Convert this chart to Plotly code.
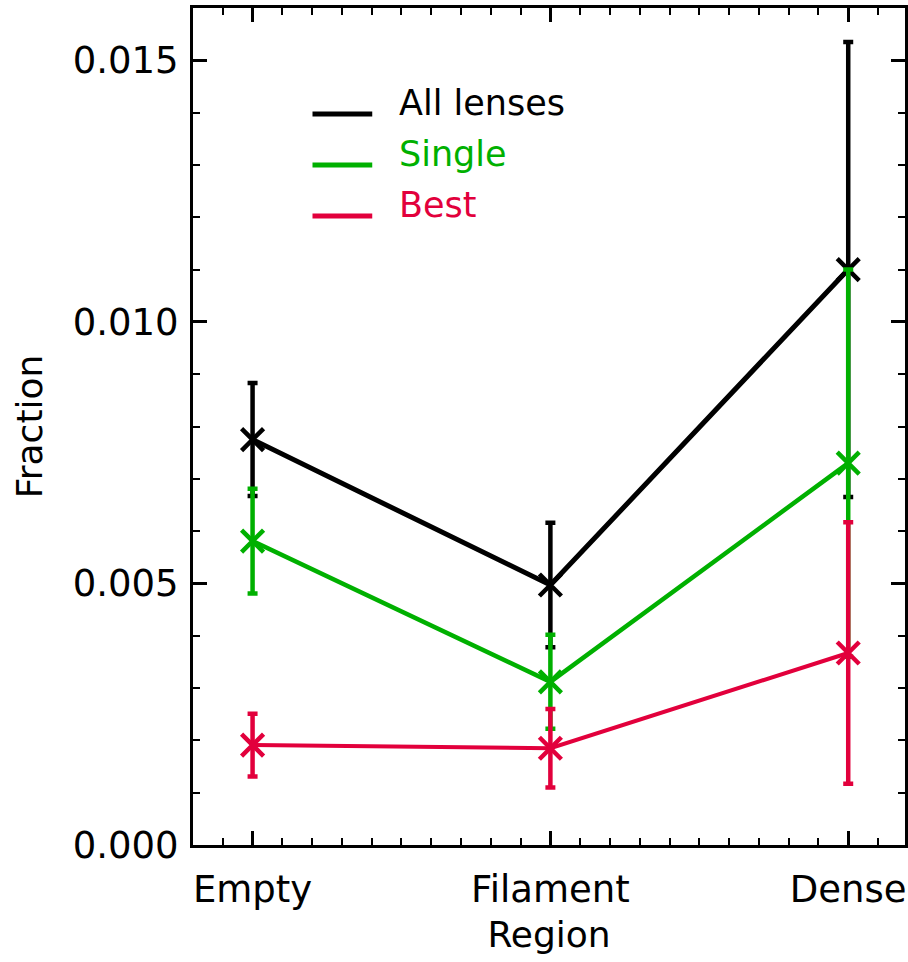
import plotly.graph_objects as go

regions = ["Empty", "Filament", "Dense"]
region_pos = [0, 1, 2]

all_vals = [0.00775, 0.00497, 0.0110]
all_err = [0.00108, 0.00119, 0.00435]

single_vals = [0.00581, 0.00312, 0.00730]
single_err = [0.00100, 0.00090, 0.00370]

best_vals = [0.00191, 0.00185, 0.00367]
best_err = [0.00060, 0.00075, 0.00250]

series = [
    ("All lenses", all_vals, all_err, "#000000", 5),
    ("Single", single_vals, single_err, "#00B000", 4.5),
    ("Best", best_vals, best_err, "#E2003C", 4),
]

y_ticks = [0.0, 0.005, 0.010, 0.015]

W, H = 908, 962
L, R, T, B = 193, 908, 8, 845
x_range = [-0.2, 2.0 + (R - 851) / 299.0]
y_range = [0.0, 0.016]

fig = go.Figure()
for name, vals, errs, color, lw in series:
    fig.add_trace(go.Scatter(
        x=region_pos, y=vals, name=name, mode="lines+markers",
        line=dict(color=color, width=lw),
        marker=dict(symbol="x-thin-open", size=22, color=color,
                    line=dict(color=color, width=4.5)),
        error_y=dict(type="data", array=errs, visible=True,
                     color=color, thickness=4.5, width=5),
        showlegend=False,
    ))

def px2paper(px, py):
    return (px - L) / (R - L), (B - py) / (B - T)

legend_rows = [(114, series[0]), (165, series[1]), (216, series[2])]
shapes = []
annotations = []
for py, (name, vals, errs, color, lw) in legend_rows:
    x0, y0 = px2paper(313, py)
    x1, _ = px2paper(373, py)
    shapes.append(dict(type="line", xref="paper", yref="paper",
                       x0=x0, x1=x1, y0=y0, y1=y0,
                       line=dict(color=color, width=5)))
    tx, ty = px2paper(398, py - 11)
    annotations.append(dict(xref="paper", yref="paper", x=tx, y=ty,
                            text=name, showarrow=False, xanchor="left",
                            yanchor="middle",
                            font=dict(family="DejaVu Sans", size=35, color=color)))

axis_common = dict(
    showline=True, linecolor="black", linewidth=3, mirror="ticks",
    ticks="inside", ticklen=14, tickwidth=2.5, tickcolor="black",
    showgrid=False, zeroline=False,
    tickfont=dict(family="DejaVu Sans", size=37, color="black"),
)

fig.update_layout(
    width=W, height=H,
    margin=dict(l=L, r=W - R, t=T, b=H - B),
    plot_bgcolor="white", paper_bgcolor="white",
    shapes=shapes, annotations=annotations,
    xaxis=dict(range=x_range, tickmode="array", tickvals=region_pos,
               ticktext=regions, ticklabelstandoff=10,
               minor=dict(tickmode="linear", tick0=0, dtick=0.1, ticks="inside",
                          ticklen=7, tickwidth=2, tickcolor="black"),
               title=dict(text="Region", standoff=12,
                          font=dict(family="DejaVu Sans", size=36, color="black")),
               **axis_common),
    yaxis=dict(range=y_range, tickmode="array", tickvals=y_ticks,
               tickformat=".3f", ticklabelstandoff=4,
               minor=dict(tickmode="linear", tick0=0, dtick=0.001, ticks="inside",
                          ticklen=7, tickwidth=2, tickcolor="black"),
               title=dict(text="Fraction", standoff=20,
                          font=dict(family="DejaVu Sans", size=36, color="black")),
               **axis_common),
)

fig.write_html("out.html", config={"displayModeBar": False},
               post_script="document.body.style.margin='0';document.body.style.overflow='hidden';")
